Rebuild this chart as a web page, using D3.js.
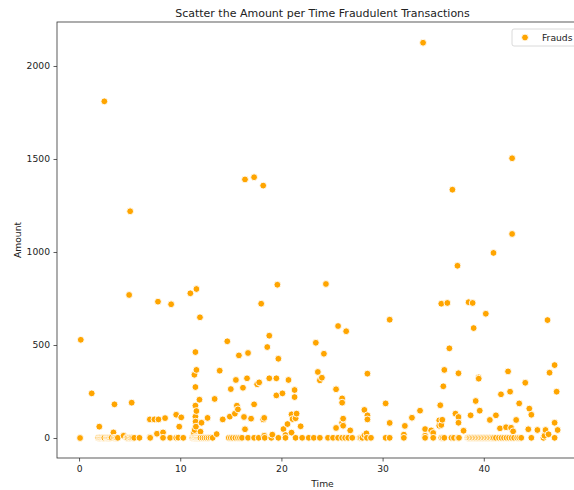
<!DOCTYPE html>
<html lang="en">

<head>
  <meta charset="utf-8">
  <title>Scatter the Amount per Time Fraudulent Transactions</title>
  <script src="https://d3js.org/d3.v7.min.js"></script>
  <style>
    body { margin: 0; background: #fff; }
    text { font-family: "DejaVu Sans", sans-serif; fill: #222; }
  </style>
</head>

<body>
  <svg width="574" height="490"></svg>
  <script>
    // [time in hours, amount] for each fraudulent transaction, grouped by time band
    const fraudsBand0 = [
      [0.1, 0], [0.17, 528], [1.25, 240],
      [1.9, 1], [2.0, 61], [2.02, 0.8], [2.12, 1], [2.22, 2], [2.32, 1], [2.42, 0.8], [2.5, 1], [2.5, 1810],
      [2.7, 1], [2.8, 1], [2.9, 0.8], [3.0, 1], [3.12, 1], [3.22, 2], [3.4, 30], [3.45, 1], [3.5, 181],
      [3.58, 0.8], [3.7, 1], [3.83, 1],
      [4.4, 12], [4.7, 1], [4.8, 0.8], [4.95, 769], [4.95, 1], [5.05, 1219], [5.08, 1], [5.2, 190], [5.2, 2],
      [5.32, 1], [5.45, 1], [5.97, 1],
      [7.0, 100], [7.0, 5], [7.03, 1], [7.45, 100], [7.7, 23], [7.8, 733], [7.85, 100], [8.3, 30], [8.3, 1],
      [8.5, 107], [9.0, 1], [9.1, 719], [9.6, 125], [9.6, 1], [9.8, 2], [9.9, 61], [10.1, 111], [10.3, 1],
      [11.0, 778], [11.2, 1], [11.3, 2], [11.35, 28], [11.4, 340], [11.4, 1], [11.42, 43], [11.45, 4],
      [11.5, 462], [11.5, 274], [11.5, 174], [11.5, 115], [11.52, 88], [11.52, 1], [11.55, 61], [11.6, 366],
      [11.6, 145], [11.6, 801], [11.62, 0.8], [11.7, 1], [11.8, 1], [11.9, 206], [11.9, 1], [11.95, 649],
      [12.0, 34], [12.0, 1]
    ];

    const fraudsBand1 = [
      [12.1, 82], [12.2, 1], [12.4, 0.8], [12.6, 1], [12.7, 108], [12.8, 1], [13.0, 2], [13.2, 1],
      [13.4, 210], [13.6, 21], [13.9, 362], [14.2, 100], [14.65, 520], [14.8, 1], [14.9, 115], [15.0, 263],
      [15.0, 1], [15.2, 0.8], [15.4, 131], [15.45, 1], [15.5, 312], [15.6, 174], [15.7, 154], [15.7, 1],
      [15.8, 444], [15.9, 1], [16.1, 1], [16.2, 270], [16.3, 113], [16.4, 47], [16.4, 1390], [16.6, 321],
      [16.7, 457], [16.7, 1], [17.0, 104], [17.3, 181], [17.3, 1402], [17.3, 1], [17.6, 289], [17.75, 1],
      [17.8, 299], [18.0, 722], [18.2, 100], [18.2, 1357], [18.3, 108], [18.3, 12], [18.35, 1], [18.6, 489],
      [18.8, 550], [18.8, 321], [19.0, 1], [19.1, 18], [19.5, 321], [19.5, 229], [19.6, 824], [19.7, 426],
      [19.7, 1], [20.1, 240], [20.2, 48], [20.4, 16], [20.4, 1], [20.6, 75], [20.7, 312], [21.0, 127],
      [21.0, 29], [21.1, 102], [21.3, 258], [21.3, 220], [21.4, 106], [21.4, 1], [21.5, 131], [21.9, 63],
      [22.05, 1], [22.7, 1], [23.2, 1], [23.4, 512], [23.6, 355], [23.8, 310], [23.8, 1], [24.0, 324],
      [24.2, 453]
    ];

    const fraudsBand2 = [
      [24.4, 828], [24.6, 1], [25.1, 1], [25.4, 262], [25.4, 54], [25.6, 602], [25.6, 1], [26.0, 213],
      [26.0, 190], [26.0, 82], [26.0, 1], [26.1, 104], [26.1, 66], [26.3, 1], [26.4, 574], [26.6, 1],
      [26.8, 41], [27.0, 1], [27.75, 1], [27.85, 0.8], [28.0, 1], [28.2, 151], [28.2, 15], [28.4, 25],
      [28.45, 1], [28.5, 346], [28.5, 122], [28.5, 100], [28.85, 1], [30.3, 186], [30.3, 1], [30.7, 636],
      [30.7, 81], [30.7, 1], [32.1, 18], [32.1, 1], [32.2, 65], [32.9, 109], [33.7, 147], [34.0, 2125],
      [34.2, 48], [34.2, 12], [34.2, 1], [34.8, 41], [35.0, 27], [35.0, 1], [35.6, 95], [35.6, 66],
      [35.7, 176], [35.8, 722], [35.8, 70], [35.8, 1], [35.9, 98], [35.95, 0.8], [36.0, 278], [36.1, 366],
      [36.1, 1]
    ];

    const fraudsBand3 = [
      [36.4, 726], [36.6, 482], [36.8, 1], [36.9, 1335], [37.05, 1], [37.2, 131], [37.4, 926], [37.45, 1],
      [37.5, 348], [37.5, 113], [37.5, 82], [37.55, 1], [38.0, 39], [38.4, 1], [38.5, 730], [38.5, 0.8],
      [38.6, 1], [38.7, 122], [38.75, 1], [38.9, 726], [38.9, 1], [39.0, 591], [39.05, 0.8], [39.2, 199],
      [39.2, 1], [39.35, 1], [39.5, 326], [39.5, 319], [39.5, 1], [39.6, 147], [39.65, 0.8], [39.8, 1],
      [39.95, 1], [40.1, 0.8], [40.2, 668], [40.25, 1], [40.4, 1], [40.55, 1], [40.6, 97], [40.7, 0.8],
      [40.85, 1], [40.96, 995], [41.0, 1], [41.2, 122], [41.2, 1], [41.5, 1], [41.6, 52], [41.7, 235],
      [41.75, 0.8], [42.0, 1], [42.2, 58], [42.25, 1], [42.4, 358], [42.5, 1], [42.6, 249], [42.7, 55],
      [42.75, 0.8], [42.8, 1504], [42.8, 1097], [42.9, 36], [43.0, 1], [43.2, 97], [43.3, 1], [43.5, 186],
      [43.5, 1], [43.7, 1], [44.1, 297], [44.4, 47], [44.5, 158], [44.7, 125], [44.7, 1], [45.3, 43],
      [45.9, 1], [46.0, 12], [46.1, 43], [46.3, 634], [46.4, 20], [46.5, 351], [47.0, 392], [47.0, 82],
      [47.0, 1], [47.2, 249], [47.3, 43]
    ];

    const xTicks = [0, 10, 20, 30, 40];
    const yTicks = [0, 500, 1000, 1500, 2000];
    const titleText = "Scatter the Amount per Time Fraudulent Transactions";
    const legendLabel = "Frauds";

    const margin = { left: 57, top: 22, right: 588, bottom: 458 };
    const svg = d3.select("svg");

    const frauds = [...fraudsBand0, ...fraudsBand1, ...fraudsBand2, ...fraudsBand3]
      .sort((a, b) => a[0] - b[0]);

    const x = d3.scaleLinear().domain([-2.18, 50.3]).range([margin.left, margin.right]);
    const y = d3.scaleLinear().domain([-107.5, 2236.5]).range([margin.bottom, margin.top]);

    // points
    svg.append("g")
      .selectAll("circle")
      .data(frauds)
      .join("circle")
      .attr("cx", (d) => x(d[0]))
      .attr("cy", (d) => y(d[1]))
      .attr("r", 3.4)
      .attr("fill", "orange")
      .attr("stroke", "#fff")
      .attr("stroke-width", 0.9);

    // axes
    const xAxis = svg.append("g")
      .attr("transform", `translate(0,${margin.bottom})`)
      .call(d3.axisBottom(x).tickValues(xTicks).tickFormat(d3.format("d")).tickSize(3.5).tickPadding(3.5));
    const yAxis = svg.append("g")
      .attr("transform", `translate(${margin.left},0)`)
      .call(d3.axisLeft(y).tickValues(yTicks).tickFormat(d3.format("d")).tickSize(3.5).tickPadding(3.5));

    [xAxis, yAxis].forEach((g) => {
      g.select(".domain").remove();
      g.selectAll("line").attr("stroke", "#333").attr("stroke-width", 0.8);
      g.selectAll("text").attr("font-size", "9.2px").attr("font-family", "DejaVu Sans").style("fill", "#222");
    });

    // spines (right one falls outside the picture)
    svg.append("rect")
      .attr("x", margin.left)
      .attr("y", margin.top)
      .attr("width", margin.right - margin.left)
      .attr("height", margin.bottom - margin.top)
      .attr("fill", "none")
      .attr("stroke", "#333")
      .attr("stroke-width", 0.8);

    // labels
    svg.append("text")
      .attr("x", (margin.left + margin.right) / 2)
      .attr("y", 17)
      .attr("text-anchor", "middle")
      .attr("font-size", "11px")
      .text(titleText);

    svg.append("text")
      .attr("x", (margin.left + margin.right) / 2)
      .attr("y", 487)
      .attr("text-anchor", "middle")
      .attr("font-size", "9.2px")
      .text("Time");

    svg.append("text")
      .attr("transform", `translate(21,${(margin.top + margin.bottom) / 2}) rotate(-90)`)
      .attr("text-anchor", "middle")
      .attr("font-size", "9.2px")
      .text("Amount");

    // legend
    const legend = svg.append("g").attr("transform", "translate(512,29)");
    legend.append("rect")
      .attr("width", 70)
      .attr("height", 17)
      .attr("rx", 2)
      .attr("fill", "#fff")
      .attr("fill-opacity", 0.8)
      .attr("stroke", "#d0d0d0")
      .attr("stroke-width", 0.8);
    legend.append("circle")
      .attr("cx", 13)
      .attr("cy", 8.5)
      .attr("r", 3.4)
      .attr("fill", "orange")
      .attr("stroke", "#fff")
      .attr("stroke-width", 0.9);
    legend.append("text")
      .attr("x", 30)
      .attr("y", 11.8)
      .attr("font-size", "9.2px")
      .text(legendLabel);
  </script>
</body>

</html>
